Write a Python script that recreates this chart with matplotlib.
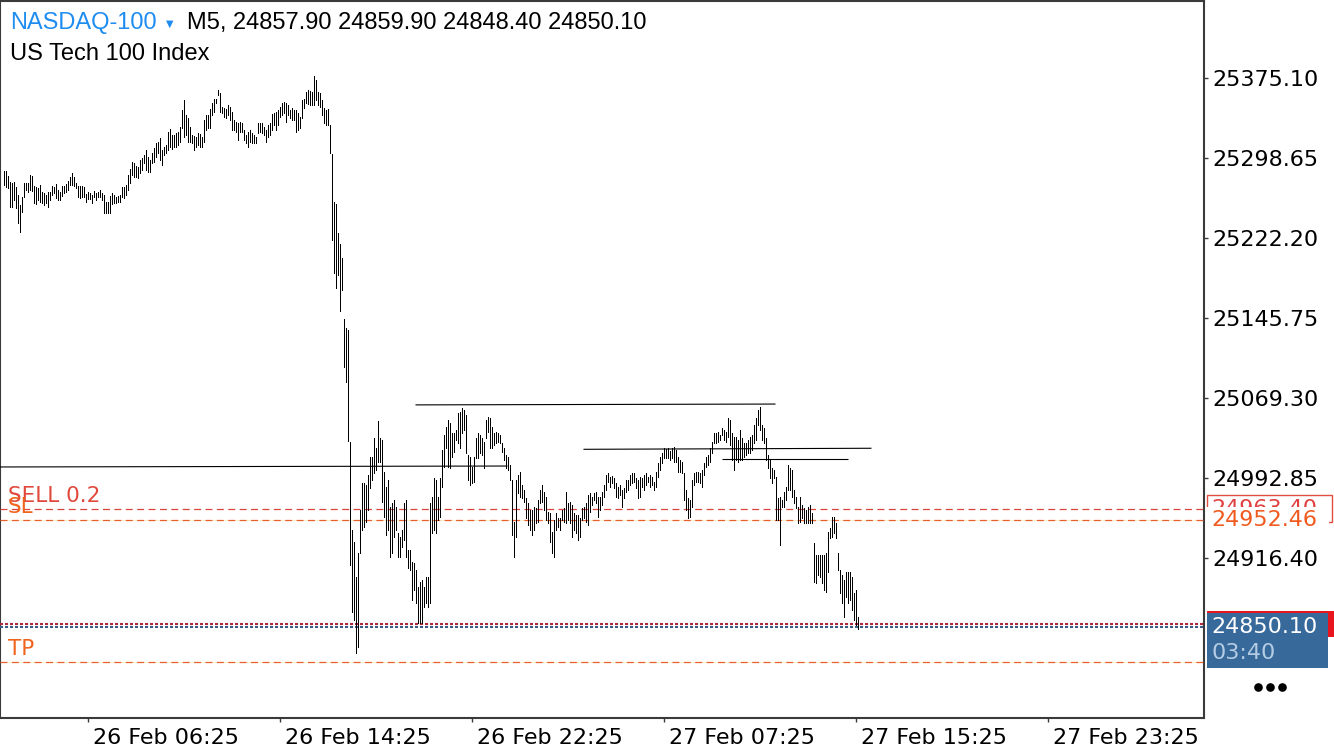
import matplotlib
matplotlib.use("Agg")
import matplotlib.pyplot as plt
import matplotlib.transforms as mtransforms
from matplotlib.patches import Rectangle
from matplotlib.lines import Line2D

plt.rcParams['lines.scale_dashes'] = False
plt.rcParams['font.family'] = ['DejaVu Sans']

# ---------------- data ----------------
symbol = "NASDAQ-100"
description = "US Tech 100 Index"
timeframe = "M5"
last_ohlc = [24857.90, 24859.90, 24848.40, 24850.10]

highs = [
    25286.4, 25286.4, 25281.6, 25276.2, 25275.2, 25276.2, 25271.4, 25263.4, 25253.8, 25261.8,
    25274.6, 25275.2, 25274.6, 25282.2, 25281.6, 25272.0, 25271.4, 25269.8, 25273.0, 25266.6,
    25265.0, 25263.4, 25266.6, 25266.6, 25272.0, 25271.4, 25273.9, 25268.2, 25266.6, 25272.0,
    25272.0, 25273.9, 25277.1, 25280.9, 25284.8, 25280.3, 25275.2, 25272.0, 25272.0, 25272.0,
    25271.4, 25264.4, 25266.6, 25265.0, 25263.4, 25267.6, 25265.0, 25266.6, 25268.2, 25265.0,
    25263.4, 25257.0, 25257.0, 25262.4, 25265.6, 25263.4, 25261.8, 25262.4, 25263.4, 25271.4,
    25271.4, 25273.0, 25282.5, 25288.0, 25295.3, 25293.7, 25291.2, 25290.5, 25296.9, 25298.5,
    25301.7, 25306.5, 25300.1, 25296.9, 25303.3, 25308.1, 25312.9, 25314.4, 25317.6, 25306.5,
    25309.7, 25311.3, 25324.0, 25326.2, 25320.8, 25320.8, 25322.4, 25324.0, 25328.8, 25344.7,
    25354.3, 25340.0, 25336.8, 25328.8, 25320.8, 25319.9, 25319.2, 25322.4, 25321.8, 25319.2,
    25335.2, 25340.0, 25340.0, 25345.4, 25351.1, 25355.0, 25355.0, 25363.9, 25360.7, 25347.9,
    25346.3, 25345.4, 25349.5, 25347.9, 25343.2, 25335.2, 25333.6, 25332.0, 25333.6, 25332.0,
    25325.6, 25320.8, 25324.0, 25325.6, 25322.4, 25320.8, 25319.2, 25332.0, 25332.0, 25332.6,
    25328.8, 25325.6, 25330.4, 25332.0, 25340.9, 25341.6, 25343.2, 25344.7, 25347.9, 25351.1,
    25352.7, 25351.1, 25349.5, 25344.7, 25346.3, 25344.7, 25344.7, 25341.6, 25338.4, 25354.3,
    25355.0, 25362.3, 25363.9, 25363.3, 25362.3, 25377.3, 25373.5, 25362.3, 25360.7, 25354.3,
    25346.3, 25344.7, 25345.4, 25330.4,
    25302.2, 25256.5, 25254.7, 25227.3, 25216.3, 25203.5, 25145.0, 25135.9, 25134.0,
    25027.4, 24942.9, 24931.7, 24898.2, 24920.5, 24962.0, 24987.5, 24987.5, 24985.9, 24995.5,
    25013.0, 25013.0, 25030.6, 25021.0, 25047.2, 25030.6, 25029.0, 24998.7, 24984.3, 24990.7,
    24965.2, 24968.4, 24971.6, 24965.2, 24939.7, 24936.5, 24942.9, 24968.4, 24971.6, 24923.7,
    24923.7, 24912.6, 24911.0, 24904.6, 24888.6, 24893.4, 24895.0, 24888.6, 24898.2, 24898.2,
    24968.4, 24974.8, 24992.3, 24990.7, 24974.8, 24992.3, 25019.4, 25033.8, 25041.8, 25048.1,
    25044.9, 25035.4, 25035.4, 25038.6, 25054.5, 25056.1, 25059.3, 25057.7, 25052.9, 25014.6,
    25013.0, 25003.5, 25013.0, 25030.6, 25035.4, 25033.8, 25030.6, 25027.4, 25048.1, 25051.3,
    25049.7, 25041.8, 25036.0, 25037.0, 25035.4, 25033.8, 25025.8, 25021.0, 25014.6, 25013.0,
    25005.1, 24990.7, 24950.8, 24990.7, 24995.5, 24998.7, 24985.9, 24981.2, 24973.2, 24968.4,
    24962.0, 24962.0, 24965.2, 24963.6, 24971.6, 24981.2, 24985.9, 24979.6, 24974.8, 24960.4,
    24958.8, 24941.3, 24952.4, 24958.8, 24954.0, 24954.0, 24962.0, 24963.6, 24979.6, 24968.4,
    24970.0, 24966.8, 24958.8, 24957.2, 24957.2, 24954.0, 24963.6, 24965.2, 24968.4, 24976.4,
    24978.0, 24974.8, 24978.0, 24979.6, 24974.8, 24974.8,
    24979.6, 24985.9, 24995.5, 24997.1, 24993.9, 24994.5, 24992.3, 24987.5, 24984.3, 24985.9,
    24981.2, 24982.7, 24990.7, 24990.7, 24995.5, 24997.1, 24997.1, 24992.3, 24990.7, 24993.9,
    24992.3, 24995.5, 24997.1, 24993.9, 24995.5, 24993.3, 24989.1, 24998.7, 25006.7, 25013.0,
    25016.2, 25021.0, 25020.1, 25021.0, 25018.8, 25021.0, 25022.6, 25019.4, 25013.0, 25009.8,
    25008.3, 24997.1, 24981.2, 24973.2, 24971.6, 24990.7, 24997.1, 24998.7, 24998.7, 24997.1,
    25000.3, 25006.7, 25013.0, 25014.6, 25021.0, 25027.4, 25035.4, 25035.4, 25037.0, 25033.8,
    25040.2, 25038.6, 25037.0, 25049.7, 25048.1, 25035.4, 25032.2, 25032.2, 25029.0, 25038.6,
    25030.6, 25025.8, 25025.8, 25029.0, 25032.2, 25033.8, 25043.4, 25049.7, 25057.7, 25060.9,
    25043.4, 25040.2, 25030.6, 25014.6, 25009.8, 25001.9, 25000.3, 24993.9, 24973.2, 24974.8,
    24971.6, 24979.6, 24984.3, 25005.1, 25001.9, 25000.3, 24981.2, 24974.8, 24965.2, 24974.8,
    24966.8, 24963.6, 24962.0, 24965.2, 24966.8, 24958.8, 24930.1, 24918.9, 24918.9, 24918.9,
    24918.9, 24918.9, 24920.5, 24941.3, 24944.5, 24955.6, 24955.6, 24949.2, 24920.5, 24904.6,
    24899.8, 24895.0, 24903.0, 24903.0, 24903.0, 24898.2, 24882.3, 24885.4, 24859.9,
]

lows = [
    25273.0, 25271.4, 25269.8, 25252.2, 25252.2, 25258.6, 25250.6, 25236.3, 25228.3, 25247.5,
    25261.8, 25268.2, 25266.6, 25268.2, 25267.6, 25255.4, 25254.5, 25258.6, 25257.0, 25255.4,
    25253.8, 25255.4, 25252.2, 25258.6, 25263.4, 25265.0, 25260.2, 25258.6, 25258.6, 25262.4,
    25265.0, 25266.6, 25268.2, 25273.0, 25273.0, 25272.0, 25269.8, 25261.2, 25260.2, 25261.2,
    25261.8, 25257.0, 25259.3, 25259.3, 25255.4, 25261.8, 25258.6, 25261.8, 25261.8, 25258.6,
    25245.9, 25245.9, 25245.9, 25246.5, 25254.8, 25255.4, 25255.4, 25257.0, 25257.0, 25261.8,
    25260.2, 25263.4, 25268.2, 25274.6, 25282.5, 25280.9, 25280.9, 25279.4, 25284.1, 25287.3,
    25293.7, 25287.3, 25285.7, 25285.7, 25293.7, 25295.3, 25300.1, 25303.3, 25296.9, 25292.1,
    25301.7, 25303.3, 25306.5, 25309.0, 25307.1, 25309.7, 25309.0, 25311.3, 25314.4, 25327.2,
    25319.2, 25320.8, 25314.4, 25314.4, 25312.8, 25306.5, 25309.7, 25311.3, 25309.0, 25309.0,
    25314.4, 25325.6, 25327.2, 25327.2, 25340.0, 25343.2, 25351.1, 25359.1, 25343.2, 25341.6,
    25338.4, 25336.8, 25340.0, 25335.2, 25325.6, 25325.6, 25324.0, 25316.0, 25324.0, 25324.0,
    25316.0, 25312.8, 25309.0, 25314.4, 25312.8, 25312.8, 25313.5, 25322.4, 25324.0, 25322.4,
    25320.8, 25314.4, 25319.2, 25320.8, 25325.6, 25330.4, 25325.6, 25330.4, 25338.4, 25340.0,
    25341.6, 25333.6, 25340.0, 25336.8, 25335.2, 25335.2, 25324.0, 25325.6, 25327.2, 25336.8,
    25346.3, 25351.1, 25350.5, 25349.5, 25349.5, 25349.5, 25354.3, 25349.5, 25347.9, 25340.0,
    25332.0, 25330.4, 25330.4, 25303.9,
    25219.9, 25188.9, 25174.2, 25187.0, 25152.3, 25172.4, 25099.3, 25084.7, 25028.0,
    24909.4, 24864.7, 24856.7, 24824.9, 24831.2, 24920.5, 24942.9, 24946.1, 24950.8, 24962.0,
    24982.7, 24990.7, 24997.1, 25000.3, 25008.3, 25008.3, 24970.0, 24955.6, 24938.1, 24942.9,
    24917.3, 24920.5, 24936.5, 24942.9, 24917.3, 24917.3, 24926.9, 24933.3, 24917.3, 24906.2,
    24904.6, 24875.9, 24885.4, 24872.7, 24853.5, 24853.5, 24853.5, 24869.5, 24872.7, 24869.5,
    24872.7, 24939.7, 24942.9, 24939.7, 24952.4, 24955.6, 24984.3, 25003.5, 25021.0, 25003.5,
    25001.9, 25013.0, 25017.8, 25029.0, 25025.8, 25021.0, 25035.4, 25038.6, 25016.2, 24990.7,
    24985.9, 24987.5, 24989.1, 25011.4, 25011.4, 25016.2, 25014.6, 25001.9, 25030.6, 25037.0,
    25021.0, 25021.0, 25024.2, 25025.8, 25027.4, 25025.8, 25017.8, 25009.8, 25001.9, 25000.3,
    24990.7, 24938.1, 24917.3, 24936.5, 24978.0, 24974.8, 24973.2, 24970.0, 24954.0, 24947.6,
    24942.9, 24938.1, 24942.9, 24949.2, 24950.8, 24968.4, 24970.0, 24962.0, 24952.4, 24949.2,
    24931.7, 24920.5, 24917.3, 24942.9, 24946.1, 24942.9, 24952.4, 24950.8, 24949.2, 24952.4,
    24949.2, 24936.5, 24942.9, 24939.7, 24933.3, 24936.5, 24952.4, 24954.0, 24950.8, 24947.6,
    24960.4, 24966.8, 24971.6, 24968.4, 24955.6, 24962.0,
    24966.8, 24974.8, 24981.2, 24989.1, 24984.3, 24987.5, 24982.7, 24974.8, 24973.2, 24976.4,
    24965.2, 24973.2, 24979.6, 24981.2, 24985.9, 24987.5, 24989.1, 24982.7, 24973.2, 24974.8,
    24984.3, 24981.2, 24985.9, 24989.1, 24984.3, 24985.9, 24981.2, 24984.3, 24993.9, 25000.3,
    25006.7, 25011.4, 25011.4, 25011.4, 25009.8, 25011.4, 25008.3, 25008.3, 24998.7, 24998.7,
    24997.1, 24971.6, 24962.0, 24954.0, 24955.6, 24965.2, 24985.9, 24989.1, 24989.1, 24987.5,
    24984.3, 24995.5, 25003.5, 25005.1, 25008.3, 25016.2, 25025.8, 25025.8, 25027.4, 25029.0,
    25033.8, 25029.0, 25027.4, 25032.2, 25024.2, 25009.8, 25000.3, 25009.8, 25008.3, 25009.8,
    25009.8, 25013.0, 25014.6, 25016.2, 25016.2, 25019.4, 25025.8, 25029.0, 25043.4, 25038.6,
    25029.0, 25025.8, 25009.8, 25001.9, 24992.3, 24987.5, 24992.3, 24952.4, 24952.4, 24928.5,
    24965.2, 24965.2, 24971.6, 24981.2, 24981.2, 24974.8, 24968.4, 24963.6, 24949.2, 24950.8,
    24954.0, 24949.2, 24949.2, 24949.2, 24949.2, 24949.2, 24893.4, 24891.8, 24899.8, 24898.2,
    24891.8, 24885.4, 24883.9, 24903.0, 24934.9, 24936.5, 24939.7, 24934.9, 24904.6, 24882.3,
    24872.7, 24859.9, 24879.1, 24872.7, 24875.9, 24866.3, 24856.7, 24851.9, 24848.4,
]

ytick_values = [25375.10, 25298.65, 25222.20, 25145.75, 25069.30, 24992.85, 24916.40]
xtick_bars = [42, 138, 234, 330, 426, 522]
xtick_labels = ["26 Feb 06:25", "26 Feb 14:25", "26 Feb 22:25",
                "27 Feb 07:25", "27 Feb 15:25", "27 Feb 23:25"]

sell_label = "SELL 0.2"
sell_price = 24963.40
sl_price = 24952.46
tp_price = 24816.50
bid_price = 24850.10
ask_price = 24852.70
countdown = "03:40"

# trend lines: (bar_start, price_start, bar_end, price_end)
trend_lines = [
    (-2, 25003.2, 252, 25004.1),
    (206, 25062.6, 386, 25063.4),
    (290, 25020.1, 434, 25021.1),
    (359, 25010.5, 422, 25010.5),
]

# ---------------- figure ----------------
W, H, DPI = 1334, 750, 100
fig = plt.figure(figsize=(W / DPI, H / DPI), dpi=DPI, facecolor='white')
AX_L, AX_T, AX_R, AX_B = 0, 1, 1204, 718
ax = fig.add_axes([AX_L / W, 1 - AX_B / H, (AX_R - AX_L) / W, (AX_B - AX_T) / H])
ax.set_facecolor('white')

Y_MIN, Y_MAX = 24763.0, 25449.06
ax.set_xlim(-1.75, 600.25)
ax.set_ylim(Y_MIN, Y_MAX)
px_per_pt = (AX_B - AX_T) / (Y_MAX - Y_MIN)


def off(dx_px, dy_px):
    return mtransforms.ScaledTranslation(dx_px / DPI, -dy_px / DPI, fig.dpi_scale_trans)


bar_idx = list(range(len(highs)))
ax.vlines(bar_idx, lows, highs, colors='black', linewidth=0.6,
          antialiased=False, zorder=5)

for b0, p0, b1, p1 in trend_lines:
    ax.plot([b0, b1], [p0, p1], color='black', lw=0.8, zorder=4,
            solid_capstyle='butt')

# order / SL / TP lines
dash = (0, (5.0, 3.2))
ax.axhline(sl_price, color='#f7ecc0', lw=0.6, zorder=2)
ax.axhline(tp_price, color='#f7ecc0', lw=0.6, zorder=2)
ax.axhline(sell_price, color='#d8463e', lw=0.9, linestyle=dash, zorder=3)
ax.axhline(sl_price, color='#e8602a', lw=0.9, linestyle=dash, zorder=3)
ax.axhline(tp_price, color='#e8602a', lw=0.9, linestyle=dash, zorder=3)
ax.axhline(ask_price, color='#b0283c', lw=1.5, linestyle=(0, (2.2, 1.4)), zorder=3)
ax.axhline(bid_price, color='#3c5e86', lw=1.5, linestyle=(0, (2.2, 1.4)), zorder=3)

left_tr = mtransforms.blended_transform_factory(ax.transAxes, ax.transData)
ax.text(8 / (AX_R - AX_L), sell_price, sell_label, color='#e0483c', fontsize=15.5,
        va='baseline', ha='left', transform=left_tr + off(0, -7), zorder=6)
ax.text(8 / (AX_R - AX_L), sl_price, "SL", color='#f0641e', fontsize=15.5,
        va='baseline', ha='left', transform=left_tr + off(0, -7), zorder=6)
ax.text(8 / (AX_R - AX_L), tp_price, "TP", color='#f0641e', fontsize=15.5,
        va='baseline', ha='left', transform=left_tr + off(0, -7), zorder=6)

# spines / ticks
for s in ax.spines.values():
    s.set_color('#3a3a3a')
    s.set_linewidth(1.5)

ax.yaxis.tick_right()
ax.set_yticks(ytick_values)
ax.set_yticklabels([f"{v:.2f}" for v in ytick_values])
ax.tick_params(axis='y', direction='out', length=3, width=1, color='#3a3a3a',
               pad=3, labelsize=16, labelcolor='black')
ax.set_xticks(xtick_bars)
ax.tick_params(axis='x', direction='out', length=3, width=1, color='#3a3a3a',
               labelbottom=False)
bot_tr = mtransforms.blended_transform_factory(ax.transData, ax.transAxes)
for b, lab in zip(xtick_bars, xtick_labels):
    ax.text(b, 0, lab, fontsize=16, color='black', ha='left', va='baseline',
            transform=bot_tr + off(5.5, 26.5), clip_on=False)

# right-side price labels
rt = mtransforms.blended_transform_factory(fig.transFigure, ax.transData)
u = 1.0 / px_per_pt  # price units per pixel


def box(x0, x1, pc, up_px, down_px, **kw):
    r = Rectangle((x0 / W, pc - down_px * u), (x1 - x0) / W, (up_px + down_px) * u,
                  transform=rt, clip_on=False, **kw)
    ax.add_patch(r)


box(1207, 1332, sell_price, 13.5, 13.5, facecolor='white', edgecolor='#e05040', lw=1, zorder=10)
ax.text(1211.5 / W, sell_price, f"{sell_price:.2f}", color='#e04040', fontsize=16,
        va='center', ha='left', transform=rt, clip_on=False, zorder=11)
box(1206, 1329, sl_price, 13, 13, facecolor='white', edgecolor='none', zorder=12)
ax.text(1211.5 / W, sl_price, f"{sl_price:.2f}", color='#f05a1e', fontsize=16,
        va='center', ha='left', transform=rt, clip_on=False, zorder=13)

ax.text(1211.5 / W, tp_price, f"{tp_price:.2f}", color='#f05a1e', fontsize=16,
        va='center', ha='left', transform=rt, clip_on=False, zorder=13)

box(1207, 1334, ask_price, 13, 13, facecolor='#e8141e', edgecolor='none', zorder=14)
box(1207, 1328, bid_price, 14, 41, facecolor='#37699b', edgecolor='none', zorder=15)
ax.text(1211.5 / W, bid_price, f"{bid_price:.2f}", color='white', fontsize=16,
        va='center', ha='left', transform=rt, clip_on=False, zorder=16)
ax.text(1211.5 / W, bid_price, countdown, color='#b4cce4', fontsize=16,
        va='center', ha='left', transform=rt + off(0, 26), clip_on=False, zorder=16)

# "more" dots
fig.add_artist(Line2D([1258 / W, 1270 / W, 1282 / W], [1 - 687 / H] * 3,
                      transform=fig.transFigure, marker='o', ms=5.2, color='black',
                      linestyle='none'))

# header
hdr_font = ['Liberation Sans', 'DejaVu Sans']
fig.text(10 / W, 1 - 29.5 / H, symbol, color='#1e8cf0', fontsize=17,
         family=hdr_font, va='baseline', ha='left')
fig.text(166 / W, 1 - 27 / H, "\u25BC", color='#1e8cf0', fontsize=7,
         family=['DejaVu Sans'], va='baseline', ha='left')
fig.text(187 / W, 1 - 29.5 / H,
         f"{timeframe}, " + " ".join(f"{v:.2f}" for v in last_ohlc),
         color='black', fontsize=17, family=hdr_font, va='baseline', ha='left')
fig.text(10 / W, 1 - 60.5 / H, description, color='black', fontsize=17,
         family=hdr_font, va='baseline', ha='left')

fig.savefig("out.png", dpi=DPI, facecolor='white')
